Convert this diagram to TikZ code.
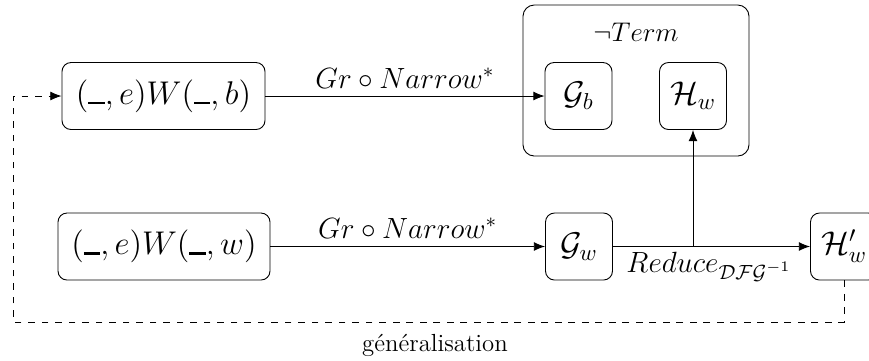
\RequirePackage{fix-cm}
\documentclass[tikz,border=0pt]{standalone}
\usetikzlibrary{arrows.meta}
\newcommand{\ubar}{\rule{0.5em}{1.1pt}}
\begin{document}
\begin{tikzpicture}[x=0.4444pt,y=-0.4444pt,
  box/.style={draw,rounded corners=4pt,inner sep=0pt,font=\fontsize{14.6}{17}\selectfont},
  arr/.style={-{Latex[length=5pt,width=4pt]}},
  lab/.style={font=\fontsize{13}{15}\selectfont}]
\useasboundingbox (0,0) rectangle (869,360);
\node[draw,rounded corners=5pt,minimum width=226*0.4444pt,minimum height=151*0.4444pt] (term) at (636,80.5) {};
\node[font=\large] (termlab) at (636,32) {$\neg Term$};
\node[box,minimum width=203*0.4444pt,minimum height=67*0.4444pt] (wb) at (163.5,96) {$(\ubar,e)W(\ubar,b)$};
\node[box,minimum width=212*0.4444pt,minimum height=67*0.4444pt] (ww) at (164,246.5) {$(\ubar,e)W(\ubar,w)$};
\node[box,minimum width=67*0.4444pt,minimum height=67*0.4444pt] (gb) at (578.5,96) {$\mathcal{G}_b$};
\node[box,minimum width=67*0.4444pt,minimum height=67*0.4444pt] (hw) at (693,96) {$\mathcal{H}_w$};
\node[box,minimum width=67*0.4444pt,minimum height=67*0.4444pt] (gw) at (579,246.5) {$\mathcal{G}_w$};
\node[box,minimum width=67*0.4444pt,minimum height=67*0.4444pt] (hpw) at (844,246.5) {$\mathcal{H}'_w$};
\draw[arr] (wb) -- node[lab,above] {$Gr\circ Narrow^{*}$} (gb);
\draw[arr] (ww) -- node[lab,above] {$Gr\circ Narrow^{*}$} (gw);
\coordinate (split) at (693,246.5);
\draw[arr] (gw) -- (hpw);
\node[lab] (redlab) at (709,267) {$Reduce_{\mathcal{DFG}^{-1}}$};
\draw[arr] (split) -- (hw);
\coordinate (c1) at (844,322);
\coordinate (c2) at (13,322);
\coordinate (c3) at (13,96);
\draw[arr,dashed] (hpw.south) -- (c1) -- (c2) -- (c3) -- (wb.west);
\node[font=\fontsize{11}{13}\selectfont] (gen) at (435,345) {généralisation};
\end{tikzpicture}
\end{document}
